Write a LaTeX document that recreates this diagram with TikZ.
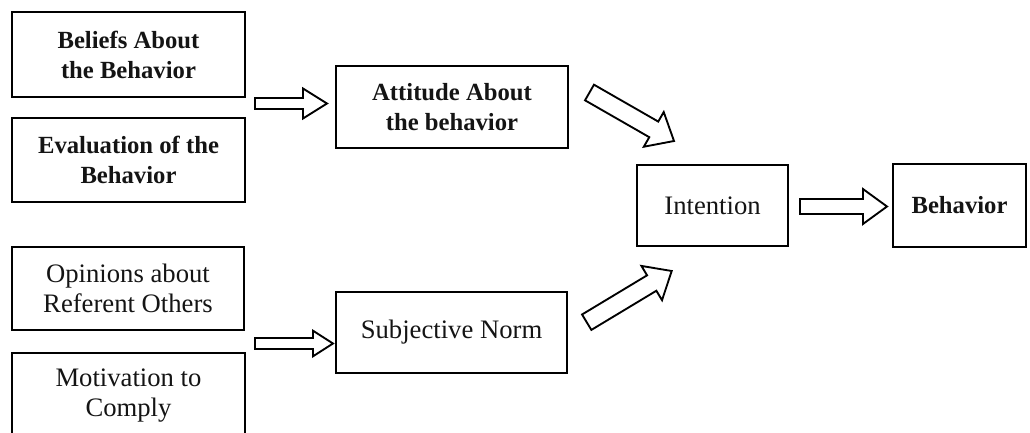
\documentclass[tikz,border=0pt]{standalone}
\usepackage{fontspec}
\setmainfont{Liberation Serif}
\usetikzlibrary{calc}

\tikzset{
  box/.style={draw=black, line width=1.6pt, inner sep=0pt, align=center,
    text=black!92, font=\fontsize{20}{22.5}\selectfont},
  boldbox/.style={box, font=\fontsize{18.5}{22.5}\selectfont\bfseries},
  blockarr/.style={draw=black, line width=1.4pt, line join=miter, fill=white},
}

% hollow block arrow: #1 tail, #2 tip, #3 shaft half width,
% #4 head half width, #5 head length
\newcommand\blockarrow[5]{%
  \coordinate (hb) at ($(#2)!#5!(#1)$);
  \draw[blockarr]
    ($(#1)!#3!90:(#2)$) -- ($(hb)!#3!90:(#2)$) -- ($(hb)!#4!90:(#2)$)
    -- (#2)
    -- ($(hb)!#4!-90:(#2)$) -- ($(hb)!#3!-90:(#2)$) -- ($(#1)!#3!-90:(#2)$)
    -- cycle;
}

\begin{document}
\begin{tikzpicture}[x=0.75pt, y=-0.75pt]
  \useasboundingbox (0,0) rectangle (1030,432);
  \clip (0,0) rectangle (1030,432);

  % left column of antecedents
  \node[boldbox, minimum width=174.75pt, minimum height=63.75pt] (beliefs)
    at (128.5,54.5) {Beliefs About\\the Behavior};
  \node[boldbox, minimum width=174.75pt, minimum height=63pt] (evaluation)
    at (128.5,160) {Evaluation of the\\Behavior};
  \node[box, minimum width=174pt, minimum height=62.25pt] (opinions)
    at (128,288.5) {Opinions about\\Referent Others};
  \node[box, minimum width=174.75pt, minimum height=63.75pt] (motivation)
    at (128.5,395.5) {Motivation to\\Comply};

  % middle column
  \node[boldbox, minimum width=174pt, minimum height=61.5pt] (attitude)
    at (452,107) {Attitude About\\the behavior};
  \node[box, minimum width=173.25pt, minimum height=60.75pt] (norm)
    at (451.5,332.5) {Subjective Norm};

  % right column
  \node[box, minimum width=113.25pt, minimum height=60.75pt] (intention)
    at (712.5,205.5) {Intention};
  \node[boldbox, minimum width=99.75pt, minimum height=62.25pt] (behavior)
    at (959.5,205.5) {Behavior};

  % arrow end points
  \coordinate (aT) at (255,103.5);   \coordinate (aH) at (327,103.5);
  \coordinate (nT) at (255,343.5);   \coordinate (nH) at (333,343.5);
  \coordinate (iT) at (800,206.5);   \coordinate (iH) at (887,206.5);
  \coordinate (dT) at (589.5,92.5);  \coordinate (dH) at (674,141);
  \coordinate (uT) at (586.7,322.2); \coordinate (uH) at (671.7,271);

  \blockarrow{aT}{aH}{4.1pt}{11.25pt}{18pt}
  \blockarrow{nT}{nH}{4.1pt}{9.6pt}{15pt}
  \blockarrow{iT}{iH}{5.6pt}{13.1pt}{18pt}
  \blockarrow{dT}{dH}{6.75pt}{15pt}{17.5pt}
  \blockarrow{uT}{uH}{6.75pt}{15pt}{17.5pt}
\end{tikzpicture}
\end{document}
